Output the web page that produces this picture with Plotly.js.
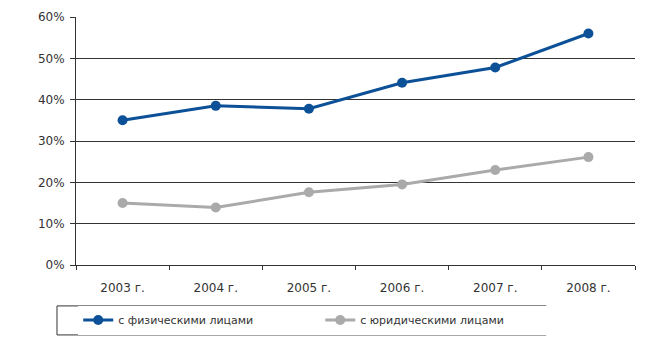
<!DOCTYPE html>
<html><head><meta charset="utf-8">
<script src="https://cdn.plot.ly/plotly-3.0.1.min.js"></script>
<style>body{margin:0;background:#fff}#c{width:672px;height:353px}</style>
</head><body><div id="c"></div>
<script>
const years = ["2003 г.", "2004 г.", "2005 г.", "2006 г.", "2007 г.", "2008 г."];
const physical = [35.0, 38.5, 37.8, 44.1, 47.8, 56.0];
const legal = [15.0, 13.9, 17.6, 19.5, 23.0, 26.1];
const seriesNames = ["с физическими лицами", "с юридическими лицами"];
const yTickVals = [0, 10, 20, 30, 40, 50, 60];
const yTickText = yTickVals.map(v => v + "%");

const traces = [
  {x: years, y: physical, name: seriesNames[0], type: "scatter", mode: "lines+markers",
   line: {color: "#0c5197", width: 3}, marker: {color: "#0c5197", size: 10}},
  {x: years, y: legal, name: seriesNames[1], type: "scatter", mode: "lines+markers",
   line: {color: "#aaaaaa", width: 3}, marker: {color: "#aaaaaa", size: 10}}
];
const layout = {
  width: 672, height: 353,
  margin: {l: 76, r: 37, t: 17, b: 88},
  paper_bgcolor: "#fff", plot_bgcolor: "#fff",
  font: {family: "DejaVu Sans, sans-serif", size: 12, color: "#333"},
  showlegend: true,
  xaxis: {type: "category", range: [-0.5, 5.5], showgrid: false, showline: true, linecolor: "#333", linewidth: 1,
          ticks: "outside", tickson: "boundaries", ticklen: 4, tickcolor: "#333", fixedrange: true,
          ticklabelstandoff: 12, automargin: false},
  yaxis: {range: [0, 60], tickvals: yTickVals, ticktext: yTickText, showgrid: true,
          gridcolor: "#333", gridwidth: 1, showline: true, linecolor: "#333", linewidth: 1,
          ticks: "outside", ticklen: 5, tickcolor: "#333", zeroline: false, fixedrange: true,
          ticklabelstandoff: 3, automargin: false},
  legend: {orientation: "h", x: 0.004, xanchor: "left", y: -0.222, yanchor: "middle",
           borderwidth: 0, entrywidth: 197, entrywidthmode: "pixels",
           font: {size: 11}, itemwidth: 30},
  shapes: [{type: "rect", xref: "paper", yref: "paper", x0: -0.034, x1: 0.841, y0: -0.282, y1: -0.165,
            line: {color: "#333", width: 1}, fillcolor: "rgba(0,0,0,0)"}]
};
Plotly.newPlot("c", traces, layout, {displayModeBar: false, staticPlot: true});
</script></body></html>
